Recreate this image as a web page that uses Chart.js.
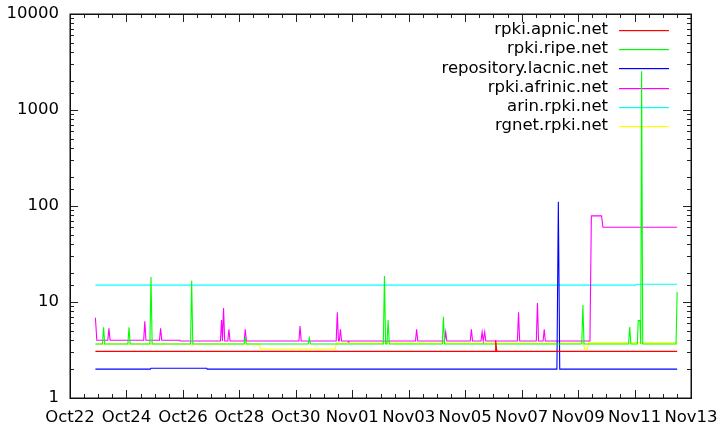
<!DOCTYPE html>
<html><head><meta charset="utf-8">
<script src="https://cdn.jsdelivr.net/npm/chart.js@4.4.0/dist/chart.umd.min.js"></script>
<style>html,body{margin:0;padding:0;background:#fff;} #c{display:block;}</style>
</head><body>
<canvas id="c" width="719" height="425"></canvas>
<script>
// x values are days since Oct22 00:00
const xTickLabels = ['Oct22','Oct24','Oct26','Oct28','Oct30','Nov01','Nov03','Nov05','Nov07','Nov09','Nov11','Nov13'];
const yTickLabels = ['1','10','100','1000','10000'];
const seriesNames = ['rpki.apnic.net','rpki.ripe.net','repository.lacnic.net','rpki.afrinic.net','arin.rpki.net','rgnet.rpki.net'];
const seriesColors = ['#ff0000','#00ff00','#0000ff','#ff00ff','#00ffff','#ffff00'];

const apnicT = [0.90, 15.06, 15.08, 15.12, 21.51];
const apnicV = [3.06, 3.06, 3.99, 3.06, 3.06];

const ripeT = [0.90, 1.15, 1.19, 1.23, 2.05, 2.09, 2.13, 2.83, 2.87, 2.91, 4.27, 4.31, 4.35, 6.17, 6.21, 6.25,
               8.44, 8.48, 8.52, 11.10, 11.14, 11.18, 11.23, 11.27, 11.31, 13.19, 13.23, 13.27, 18.13, 18.17, 18.21,
               19.79, 19.83, 19.87, 20.10, 20.13, 20.19, 20.22, 20.25, 20.29, 21.47, 21.51];
const ripeV = [3.65, 3.65, 5.45, 3.65, 3.65, 5.45, 3.65, 3.65, 18.2, 3.65, 3.65, 16.6, 3.65, 3.65, 4.2, 3.65,
               3.65, 4.2, 3.65, 3.65, 18.6, 3.65, 3.65, 6.5, 3.65, 3.65, 7.0, 3.65, 3.65, 9.3, 3.65,
               3.65, 5.5, 3.65, 3.65, 6.4, 6.4, 3.65, 2530, 3.65, 3.65, 12.7];

const lacnicT = [0.90, 2.85, 2.87, 4.84, 4.86, 17.25, 17.30, 17.35, 21.51];
const lacnicV = [2.0, 2.0, 2.04, 2.04, 2.0, 2.0, 111, 2.0, 2.0];

const afrinicT = [0.90, 0.95, 1.34, 1.38, 1.42, 2.61, 2.65, 2.69, 3.17, 3.21, 3.25, 3.89, 3.91, 5.33, 5.37, 5.40,
                  5.44, 5.48, 5.59, 5.63, 5.67, 6.17, 6.21, 6.25, 8.11, 8.15, 8.19, 9.43, 9.47, 9.51, 9.54, 9.58,
                  9.62, 9.84, 9.86, 9.88, 12.24, 12.28, 12.32, 13.27, 13.31, 13.35, 14.18, 14.22, 14.26, 14.56,
                  14.60, 14.64, 14.65, 14.69, 14.73, 15.85, 15.89, 15.93, 16.52, 16.56, 16.60, 16.76, 16.80, 16.84,
                  18.42, 18.47, 18.83, 18.88, 21.51];
const afrinicV = [6.86, 3.99, 3.99, 5.32, 3.99, 3.99, 6.29, 3.99, 3.99, 5.32, 3.99, 3.99, 3.92, 3.92, 6.49, 3.92,
                  8.66, 3.92, 3.92, 5.2, 3.92, 3.92, 5.2, 3.92, 3.92, 5.62, 3.92, 3.92, 7.81, 3.92, 3.92, 5.2,
                  3.92, 3.92, 3.83, 3.92, 3.92, 5.2, 3.92, 3.92, 4.87, 3.92, 3.92, 5.2, 3.92, 3.92,
                  4.87, 3.92, 3.92, 4.87, 3.92, 3.92, 7.81, 3.92, 3.92, 9.77, 3.92, 3.92, 5.2, 3.92,
                  3.92, 79, 79, 60, 60];

const arinT = [0.90, 20.05, 20.07, 21.51];
const arinV = [15.0, 15.0, 15.3, 15.3];

const rgnetT = [0.90, 6.69, 6.75, 9.40, 9.44, 18.19, 18.23, 18.33, 18.37, 21.51];
const rgnetV = [3.65, 3.65, 3.24, 3.24, 3.74, 3.74, 3.24, 3.24, 3.77, 3.77];

const seriesT = [apnicT, ripeT, lacnicT, afrinicT, arinT, rgnetT];
const seriesV = [apnicV, ripeV, lacnicV, afrinicV, arinV, rgnetV];

const FONT = 'DejaVu Sans';
const FSIZE = 16.5;

const datasets = seriesNames.map((name, k) => ({
  label: name,
  data: seriesT[k].map((t, i) => ({x: t, y: seriesV[k][i]})),
  borderColor: seriesColors[k],
  backgroundColor: seriesColors[k],
  borderWidth: 1.1,
  pointRadius: 0,
  fill: false,
  tension: 0
}));

const framePlugin = {
  id: 'frame',
  beforeDatasetsDraw(chart) {
    const ctx = chart.ctx;
    ctx.save();
    ctx.font = FSIZE + 'px "' + FONT + '"';
    ctx.textAlign = 'right';
    ctx.textBaseline = 'middle';
    seriesNames.forEach((n, i) => {
      const y = 30 + i * 19.2;
      ctx.fillStyle = '#000';
      ctx.fillText(n, 608, y);
      ctx.fillStyle = seriesColors[i];
      ctx.fillRect(619, Math.round(y), 50, 1.2);
    });
    ctx.restore();
  },
  afterDatasetsDraw(chart) {
    const ctx = chart.ctx;
    const a = chart.chartArea;
    const xs = chart.scales.x, ys = chart.scales.y;
    ctx.save();
    ctx.strokeStyle = '#222';
    ctx.lineWidth = 1;
    ctx.beginPath();
    for (let t = xs.min; t <= xs.max + 1e-9; t += 0.5) {
      const px = Math.round(xs.getPixelForValue(t)) + 0.5;
      const len = (Math.abs(t / 2 - Math.round(t / 2)) < 1e-9) ? 8 : 4;
      ctx.moveTo(px, a.bottom); ctx.lineTo(px, a.bottom - len);
      ctx.moveTo(px, a.top); ctx.lineTo(px, a.top + len);
    }
    ys.ticks.forEach(tk => {
      const v = tk.value;
      if (v < ys.min || v > ys.max) return;
      const l = Math.log10(v);
      const major = Math.abs(l - Math.round(l)) < 1e-9;
      const py = Math.round(ys.getPixelForValue(v)) + 0.5;
      const len = major ? 8 : 4;
      ctx.moveTo(a.left, py); ctx.lineTo(a.left + len, py);
      ctx.moveTo(a.right, py); ctx.lineTo(a.right - len, py);
    });
    ctx.stroke();
    ctx.lineWidth = 1.5;
    ctx.strokeStyle = '#111';
    ctx.strokeRect(Math.round(a.left) + 0.25, Math.round(a.top) + 0.25, Math.round(a.right - a.left), Math.round(a.bottom - a.top));
    ctx.restore();
  }
};

new Chart(document.getElementById('c'), {
  type: 'line',
  data: { datasets },
  options: {
    responsive: false,
    animation: false,
    devicePixelRatio: 1,
    layout: { padding: { top: 14, right: 28, left: 0, bottom: 0 } },
    plugins: { legend: { display: false }, tooltip: { enabled: false } },
    scales: {
      x: {
        type: 'linear', min: 0, max: 22,
        grid: { display: false, drawTicks: false },
        border: { display: false },
        ticks: {
          stepSize: 2, autoSkip: false, maxRotation: 0, padding: 10,
          color: '#000', font: { family: FONT, size: FSIZE },
          callback: (v) => xTickLabels[Math.round(v / 2)]
        },
        afterFit: (s) => { s.height = 27; s.paddingLeft = 0; s.paddingRight = 0; }
      },
      y: {
        type: 'logarithmic', min: 1, max: 10000,
        grid: { display: false, drawTicks: false },
        border: { display: false },
        ticks: {
          autoSkip: false, padding: 11,
          color: '#000', font: { family: FONT, size: FSIZE },
          callback: (v) => {
            const l = Math.log10(v);
            return Math.abs(l - Math.round(l)) < 1e-9 ? yTickLabels[Math.round(l)] : '';
          }
        },
        afterFit: (s) => { s.width = 70; s.paddingTop = 0; s.paddingBottom = 0; }
      }
    }
  },
  plugins: [framePlugin]
});
</script>
</body></html>
